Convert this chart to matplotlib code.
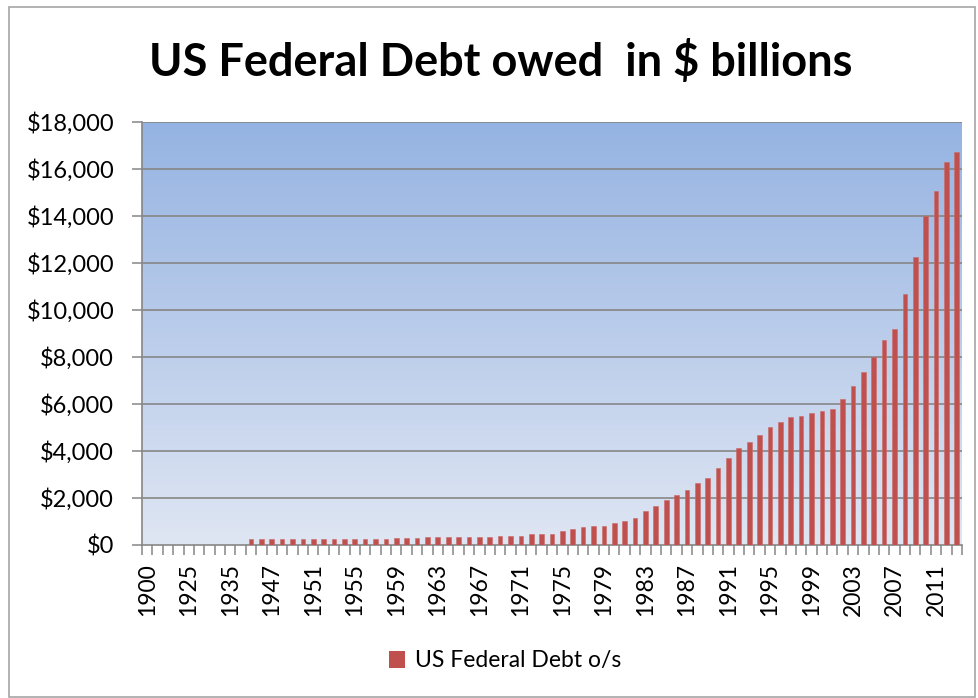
import numpy as np
import matplotlib

matplotlib.use("Agg")
import matplotlib.pyplot as plt
from matplotlib.patches import Rectangle, Patch
from matplotlib.colors import LinearSegmentedColormap

plt.rcParams["font.family"] = ["Lato", "DejaVu Sans"]

# categories (early years carry no data)
years = ["1900", "1910", "1915", "1920", "1925", "1927", "1930", "1933", "1935", "1940",
         "1945", "1946"] + [str(y) for y in range(1947, 2014)]

debt = [0, 0, 0, 0, 0, 0, 0, 0, 0, 0,
        260, 260,
        # 1947-1958
        260, 260, 260, 260, 260, 260, 260, 260, 260, 260, 260, 260,
        # 1959-1968
        290, 290, 290, 320, 320, 320, 320, 320, 320, 320,
        # 1969-1978
        380, 380, 380, 460, 460, 460, 600, 670, 745, 815,
        # 1979-1988
        815, 940, 1030, 1155, 1450, 1650, 1935, 2135, 2350, 2630,
        # 1989-1998
        2850, 3260, 3690, 4110, 4380, 4670, 5020, 5220, 5430, 5500,
        # 1999-2008
        5630, 5715, 5775, 6200, 6770, 7375, 7985, 8720, 9200, 10680,
        # 2009-2013
        12270, 14000, 15080, 16310, 16740]

y_ticks = list(range(0, 18001, 2000))
y_labels = [f"${v:,}" for v in y_ticks]

fig = plt.figure(figsize=(9.79, 6.98), dpi=100)
ax = fig.add_axes([142 / 979, 1 - 545 / 698, 820 / 979, 423 / 698])

# gradient plot-area background
grad_cmap = LinearSegmentedColormap.from_list("bg", ["#dfe6f3", "#95b3e2"])
ax.imshow(np.linspace(0, 1, 256).reshape(-1, 1), extent=[0, 1, 0, 1], origin="lower",
          transform=ax.transAxes, aspect="auto", cmap=grad_cmap, zorder=0)

x = np.arange(len(years))
ax.bar(x, debt, width=0.45, color="#c0504d", edgecolor="#cc6a67", linewidth=0.4, zorder=3)

ax.set_xlim(-0.5, len(years) - 0.5)
ax.set_ylim(0, 18000)

for v in y_ticks[1:]:
    ax.axhline(v, color="#868686", linewidth=1.2, zorder=1)

ax.set_yticks(y_ticks)
ax.set_yticklabels(y_labels)
ax.tick_params(axis="y", length=7, width=1.1, color="#868686", pad=13, labelsize=17)

ax.set_xticks(x[::4])
ax.set_xticklabels(years[::4], rotation=90)
ax.set_xticks(np.arange(len(years) + 1) - 0.5, minor=True)
ax.tick_params(axis="x", which="major", length=0, pad=13, labelsize=16.5)
ax.tick_params(axis="x", which="minor", length=7, width=1.1, color="#868686")

for side in ("top", "right"):
    ax.spines[side].set_visible(False)
for side in ("left", "bottom"):
    ax.spines[side].set_color("#868686")
    ax.spines[side].set_linewidth(1.2)

fig.text(0.512, 1 - 62 / 698, "US Federal Debt owed  in $ billions", ha="center", va="center",
         fontsize=32.5, fontweight="bold")

fig.legend(handles=[Patch(facecolor="#c0504d", label="US Federal Debt o/s")],
           loc="center", bbox_to_anchor=(0.516, 1 - 661 / 698), frameon=False,
           fontsize=16.5, handlelength=0.7, handleheight=0.7, handletextpad=0.4)

fig.patches.append(Rectangle((9 / 979, 1 / 698), 966 / 979, 690 / 698, transform=fig.transFigure,
                             fill=False, edgecolor="#a6a6a6", linewidth=1.2))

fig.savefig("out.png", dpi=100)
